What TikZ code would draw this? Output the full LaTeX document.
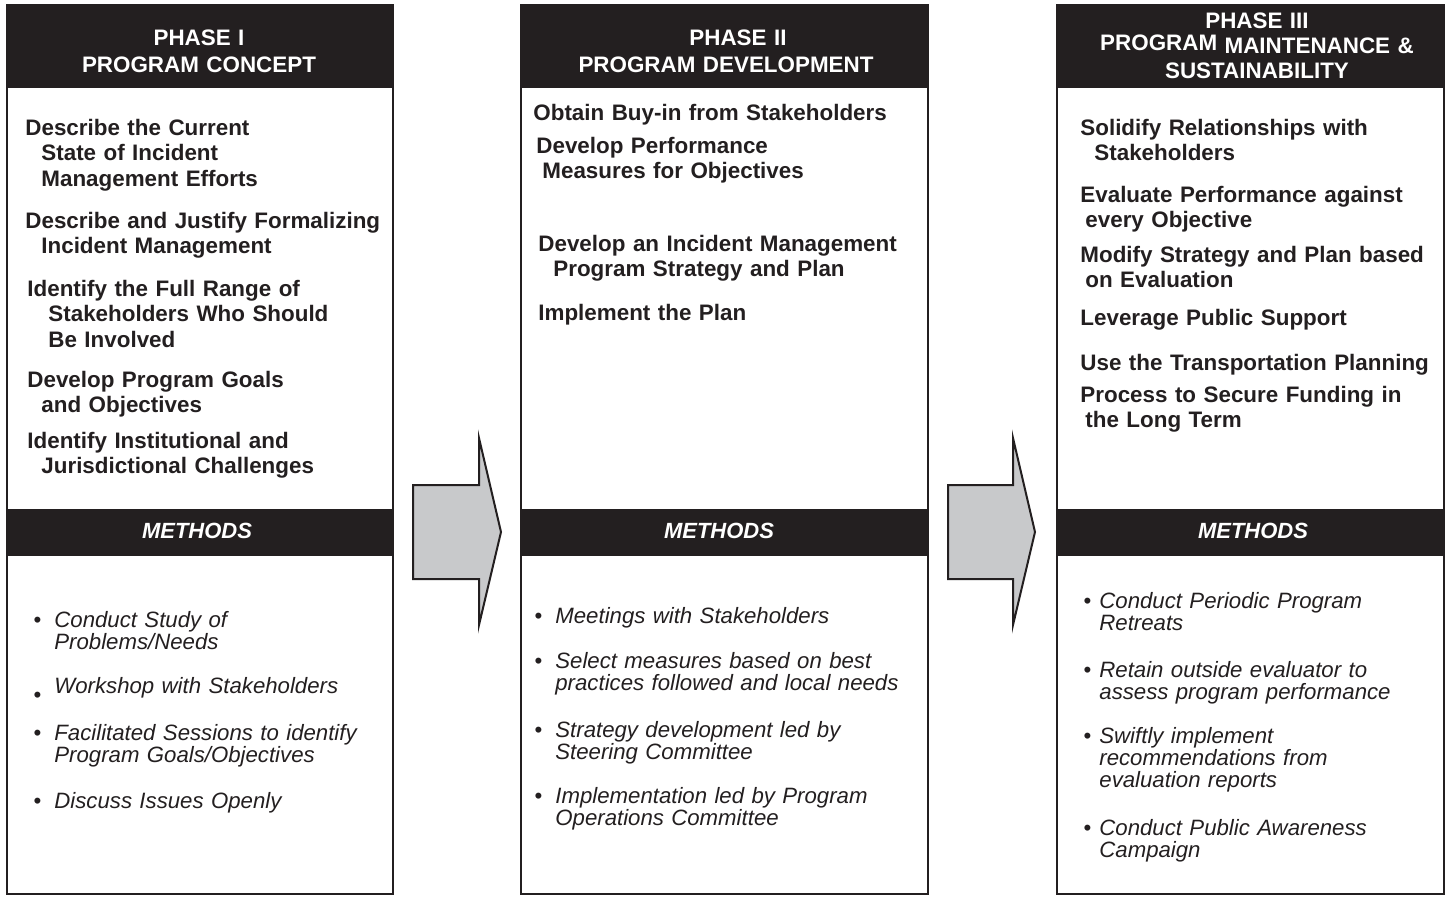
\documentclass[tikz,border=0pt]{standalone}
\usepackage{fontspec}
\setmainfont{Liberation Sans}
\definecolor{ink}{RGB}{35,31,32}
\definecolor{arrowgray}{RGB}{200,201,203}
\newcommand{\bul}[1][6.5pt]{\llap{\upshape\textbullet\hspace{#1}}}
\tikzset{
	phasebox/.style={draw=ink, line width=1pt},
	headbar/.style={fill=ink},
	headtext/.style={anchor=base, align=center, text width=190pt, inner sep=0pt, text=white, font=\bfseries\fontsize{11.2}{13.5}\selectfont},
	methlabel/.style={text=white, inner sep=0pt, font=\bfseries\itshape\fontsize{11}{13}\selectfont},
	task/.style={anchor=base west, align=left, text width=200pt, inner sep=0pt, text=ink, font=\bfseries\fontsize{11.2}{12.75}\selectfont},
	method/.style={anchor=base west, align=left, text width=200pt, inner sep=0pt, text=ink, font=\itshape\fontsize{11.1}{11}\selectfont},
	bigarrow/.style={draw=ink, line width=1pt, fill=arrowgray}
}

\begin{document}
\begin{tikzpicture}[x=0.5pt, y=-0.5pt]
			\useasboundingbox (0,0) rectangle (1447,896);
			\fill[headbar] (7,5) rectangle (393,88);
			\fill[headbar] (7,509) rectangle (393,556);
			\fill[headbar] (521,5) rectangle (928,88);
			\fill[headbar] (521,509) rectangle (928,556);
			\fill[headbar] (1057,5) rectangle (1444,88);
			\fill[headbar] (1057,509) rectangle (1444,556);
			\draw[phasebox] (7,5) rectangle (393,894);
			\draw[phasebox] (521,5) rectangle (928,894);
			\draw[phasebox] (1057,5) rectangle (1444,894);
			\draw[bigarrow] (413,485) -- (479,485) -- (479,438) -- (501,532) -- (479,625) -- (479,579) -- (413,579) -- cycle;
			\draw[bigarrow] (948,485) -- (1013,485) -- (1013,438) -- (1035,532) -- (1013,625) -- (1013,579) -- (948,579) -- cycle;
			\node[headtext] (phaseI) at (199,45) {PHASE I\\PROGRAM CONCEPT};
			\node[headtext] (phaseII) at (726,45) {\hspace*{12pt}PHASE II\\PROGRAM DEVELOPMENT};
			\node[headtext, font=\bfseries\fontsize{11.2}{12.5}\selectfont] (phaseIII) at (1257,28) {PHASE III\\\raisebox{1.5pt}{PROGRAM} MAINTENANCE \&\\SUSTAINABILITY};
			\node[methlabel] (methI) at (197,531) {METHODS};
			\node[methlabel] (methII) at (719,531) {METHODS};
			\node[methlabel] (methIII) at (1253,531) {METHODS};
			\node[task] (conceptA) at (25,135) {Describe the Current\\\hspace*{8pt}State of Incident\\\hspace*{8pt}Management Efforts};
			\node[task] (conceptB) at (25,228) {Describe and Justify Formalizing\\\hspace*{8pt}Incident Management};
			\node[task] (conceptC) at (27,296) {Identify the Full Range of\\\hspace*{10.5pt}Stakeholders Who Should\\\hspace*{10.5pt}Be Involved};
			\node[task] (conceptD) at (27,387) {Develop Program Goals\\\hspace*{7pt}and Objectives};
			\node[task] (conceptE) at (27,448) {Identify Institutional and\\\hspace*{7pt}Jurisdictional Challenges};
			\node[task] (developA) at (533,120) {Obtain Buy-in from Stakeholders};
			\node[task] (developB) at (536,153) {Develop Performance\\\hspace*{3pt}Measures for Objectives};
			\node[task] (developC) at (538,251) {Develop an Incident Management\\\hspace*{7.5pt}Program Strategy and Plan};
			\node[task] (developD) at (538,320) {Implement the Plan};
			\node[task] (sustainA) at (1080,135) {Solidify Relationships with\\\hspace*{7pt}Stakeholders};
			\node[task] (sustainB) at (1080,202) {Evaluate Performance against\\\hspace*{2.5pt}every Objective};
			\node[task] (sustainC) at (1080,262) {Modify Strategy and Plan based\\\hspace*{2.5pt}on Evaluation};
			\node[task] (sustainD) at (1080,325) {Leverage Public Support};
			\node[task] (sustainE) at (1080,370) {Use the Transportation Planning};
			\node[task] (sustainF) at (1080,402) {Process to Secure Funding in\\\hspace*{2.5pt}the Long Term};
			\node[method] (studyI) at (54,627) {\bul Conduct Study of\\Problems/Needs};
			\node[method] (studyII) at (54,693) {\llap{\raisebox{-4.5pt}{\upshape\textbullet}\hspace{6.5pt}}Workshop with Stakeholders};
			\node[method] (studyIII) at (54,740) {\bul Facilitated Sessions to identify\\Program Goals/Objectives};
			\node[method] (studyIV) at (54,808) {\bul Discuss Issues Openly};
			\node[method] (meetI) at (555,623) {\bul Meetings with Stakeholders};
			\node[method] (meetII) at (555,668) {\bul Select measures based on best\\practices followed and local needs};
			\node[method] (meetIII) at (555,737) {\bul Strategy development led by\\Steering Committee};
			\node[method] (meetIV) at (555,803) {\bul Implementation led by Program\\Operations Committee};
			\node[method] (retreatI) at (1099,608) {\bul[4pt]Conduct Periodic Program\\Retreats};
			\node[method] (retreatII) at (1099,677) {\bul[4pt]Retain outside evaluator to\\assess program performance};
			\node[method] (retreatIII) at (1099,743) {\bul[4pt]Swiftly implement\\recommendations from\\evaluation reports};
			\node[method] (retreatIV) at (1099,835) {\bul[4pt]Conduct Public Awareness\\Campaign};
		\end{tikzpicture}
\end{document}
